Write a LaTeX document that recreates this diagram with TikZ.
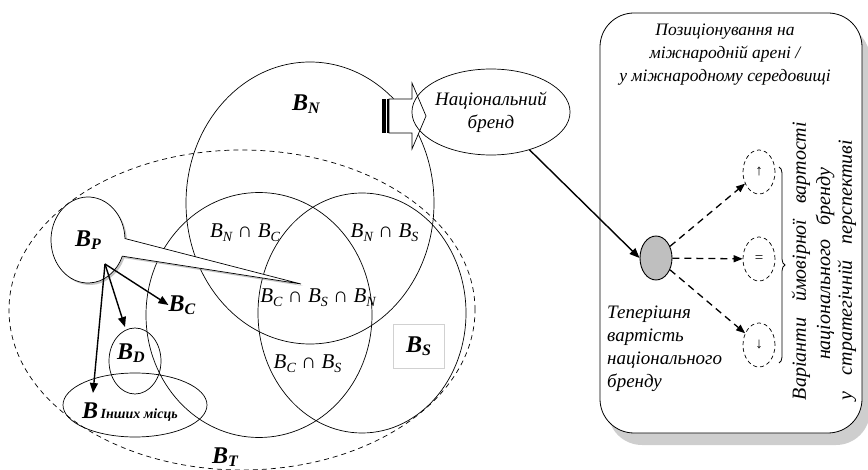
\documentclass[tikz,border=0pt]{standalone}
\usepackage{fontspec}
\setmainfont{Liberation Serif}
\usetikzlibrary{shapes.geometric,shapes.callouts,shadows,arrows.meta,decorations.pathreplacing}
\newcommand\bsub[1]{\raisebox{-3pt}{\fontsize{16}{16}\selectfont #1}}
\newcommand\isub[1]{\raisebox{-4pt}{\fontsize{14}{14}\selectfont #1}}
\begin{document}
\begin{tikzpicture}[x=1pt,y=-1pt,
  circ/.style={draw, ellipse, line width=0.7pt, inner sep=0pt},
  dcirc/.style={circ, dash pattern=on 5pt off 4pt},
  bigB/.style={font=\fontsize{24}{24}\selectfont\bfseries\itshape, inner sep=0pt},
  inter/.style={font=\fontsize{21}{21}\selectfont\itshape, inner sep=0pt},
  parr/.style={line width=1.4pt, -{Triangle[length=10pt,width=8pt]}},
  darr/.style={line width=1.3pt, dash pattern=on 7pt off 5pt, -{Triangle[length=9pt,width=7pt]}},
  opt/.style={circ, dash pattern=on 4pt off 3pt, minimum width=32pt, minimum height=44pt, font=\fontsize{15}{15}\selectfont},
  itx/.style={font=\fontsize{19}{23}\selectfont\itshape, inner sep=0pt},
  rot/.style={font=\fontsize{20}{20}\selectfont\itshape, inner sep=0pt, rotate=90}
]
\useasboundingbox (0,0) rectangle (868,470);

% big sets
\node[dcirc, minimum width=466pt, minimum height=320pt] (bt) at (242,310) {};
\node[circ, minimum width=248pt, minimum height=282pt] (bn) at (310,203) {};
\node[circ, minimum width=226pt, minimum height=245pt] (bc) at (259,315) {};
\node[circ, minimum width=208pt, minimum height=240pt] (bs) at (362,313) {};

% labels
\node[bigB] (bnl) at (306,104) {B\bsub{N}};
\node[bigB] (btl) at (225,457) {B\bsub{T}};
\node[bigB, draw=black!18, line width=0.6pt, fill=white, minimum width=51pt, minimum height=44pt] (bsl) at (418.5,346) {B\bsub{S}};
\node[inter] (nc) at (245,233) {B\isub{N} {\upshape ∩} B\isub{C}};
\node[inter] (ns) at (384.5,233) {B\isub{N} {\upshape ∩} B\isub{S}};
\node[inter] (csn) at (318,298) {B\isub{C} {\upshape ∩} B\isub{S} {\upshape ∩} B\isub{N}};
\node[inter] (cs) at (307.5,364) {B\isub{C} {\upshape ∩} B\isub{S}};

% small sets
\node[circ, minimum width=52pt, minimum height=66pt] (bd) at (135,361) {};
\node[bigB] (bdl) at (131,353) {B\bsub{D}};
\node[circ, minimum width=144pt, minimum height=64pt] (bo) at (135,405) {};
\node[inner sep=0pt, font=\bfseries\itshape] (bol) at (130,412) {{\fontsize{24}{24}\selectfont B} {\fontsize{14}{14}\selectfont Інших місць}};
\node[bigB] (bcl) at (182,305) {B\bsub{C}};

% callout B_P
\coordinate (bptip) at (301,284);
\node[ellipse callout, draw, line width=0.7pt, fill=white, inner sep=0pt,
  minimum width=74pt, minimum height=86pt,
  callout absolute pointer={(bptip)}, callout pointer arc=24,
  drop shadow={shadow xshift=2pt, shadow yshift=-2pt, fill=black!45},
  font=\fontsize{24}{24}\selectfont\bfseries\itshape] (bp) at (88,240) {B\bsub{P}};

\coordinate (bpo) at (105,264);
\coordinate (tipD) at (125,327);
\coordinate (tipO) at (93,393);
\draw[parr] (bpo) -- (bcl.west);
\draw[parr] (bpo) -- (tipD);
\draw[parr] (bpo) -- (tipO);

% striped block arrow
\draw[line width=0.7pt, fill=white] (389,99) -- (412,99) -- (412,83) -- (426,116) -- (412,149) -- (412,133) -- (389,133) -- cycle;
\fill (382,99) rectangle (385.5,133);
\fill (386.5,99) rectangle (388.5,133);

\node[circ, minimum width=136pt, minimum height=86pt, itx, align=center] (nb) at (491,112) {Національний\\бренд};

% right panel
\node[draw, line width=0.8pt, fill=white, rounded corners=34pt, minimum width=262pt, minimum height=420pt,
  drop shadow={shadow xshift=8pt, shadow yshift=-12pt, fill=black!38}] (panel) at (731,223) {};
\node[align=center, inner sep=0pt, font=\fontsize{17.5}{23}\selectfont\itshape] (title) at (725,55)
  {Позиціонування на\\міжнародній арені /\\у міжнародному середовищі};

\node[circ, fill=black!25, line width=0.9pt, minimum width=32pt, minimum height=44pt] (cur) at (656,258) {};
\node[opt] (up) at (759,172) {↑};
\node[opt] (eq) at (759,259) {=};
\node[opt] (dn) at (759,345) {↓};

\draw[line width=1.4pt, -{Triangle[length=10pt,width=8pt]}] (nb) -- (cur.west);
\draw[darr] (cur) -- (up);
\draw[darr] (cur) -- (eq);
\draw[darr] (cur) -- (dn);

\node[itx, align=left, anchor=north west] (curl) at (607,306) {Теперішня\\вартість\\національного\\бренду};

\coordinate (brt) at (779,167);
\coordinate (brb) at (779,363);
\draw[line width=0.8pt, decorate, decoration={brace, amplitude=6pt}] (brt) -- (brb);

\node[rot] (r1) at (801,261) {\makebox[278pt][s]{Варіанти ймовірної вартості}};
\node[rot] (r2) at (825,264) {\makebox[192pt][s]{національного бренду}};
\node[rot] (r3) at (847,270) {\makebox[260pt][s]{у стратегічній перспективі}};
\end{tikzpicture}
\end{document}
